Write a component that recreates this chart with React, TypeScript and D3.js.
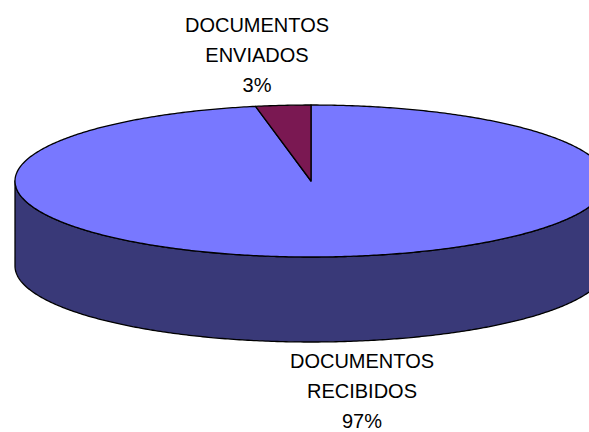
import React from 'react';
import * as d3 from 'd3';

// values
const labels = ['DOCUMENTOS RECIBIDOS', 'DOCUMENTOS ENVIADOS'];
const shares = [97, 3];
const topColors = ['#7878ff', '#7a1852'];
const sideColors = ['#393978', '#4a0e32'];

const W = 589;
const H = 432;
const cx = 311;
const cy = 181;
const rx = 296;
const ry = 76;
const depth = 85;

// projected point on the top ellipse, angle measured clockwise from 12 o'clock
function pt(a: number, dy = 0): [number, number] {
  return [cx + rx * Math.sin(a), cy - ry * Math.cos(a) + dy];
}

function arcPoints(a0: number, a1: number, dy = 0) {
  const n = Math.max(2, Math.ceil(Math.abs(a1 - a0) / 0.01));
  return d3.range(n + 1).map((i) => pt(a0 + ((a1 - a0) * i) / n, dy));
}

const line = d3.line();

export default function App() {
  const arcs = d3.pie<number>().sort(null).value((d) => d)(shares);

  const sides: React.ReactNode[] = [];
  const tops: React.ReactNode[] = [];

  arcs.forEach((a, i) => {
    // visible front wall spans from 90deg (right) to 270deg (left)
    const s0 = Math.max(a.startAngle, Math.PI / 2);
    const s1 = Math.min(a.endAngle, (3 * Math.PI) / 2);
    if (s1 > s0) {
      const upper = arcPoints(s0, s1);
      const lower = arcPoints(s1, s0, depth);
      sides.push(
        <path
          key={'s' + i}
          d={line([...upper, ...lower])! + 'Z'}
          fill={sideColors[i]}
          stroke="#000"
          strokeWidth={1.3}
          strokeLinejoin="round"
        />
      );
    }
    const pts: [number, number][] = [[cx, cy], ...arcPoints(a.startAngle, a.endAngle)];
    tops.push(
      <path
        key={'t' + i}
        d={line(pts)! + 'Z'}
        fill={topColors[i]}
        stroke="#000"
        strokeWidth={1.3}
        strokeLinejoin="round"
      />
    );
  });

  const total = d3.sum(shares);
  const fmt = (v: number) => Math.round((v / total) * 100) + '%';

  const labelPos = [
    { x: 362, y: 368 },
    { x: 257, y: 32 },
  ];

  return (
    <svg
      width={W}
      height={H}
      style={{ position: 'absolute', left: 0, top: 0, background: '#fff' }}
      fontFamily="'Liberation Sans', Arial, sans-serif"
      fontSize={20}
    >
      {sides}
      {tops}
      {labels.map((l, i) => {
        const words = l.split(' ');
        return (
          <text key={l} x={labelPos[i].x} y={labelPos[i].y} textAnchor="middle" fill="#000">
            {[...words, fmt(shares[i])].map((w, j) => (
              <tspan key={j} x={labelPos[i].x} dy={j === 0 ? 0 : 30}>
                {w}
              </tspan>
            ))}
          </text>
        );
      })}
    </svg>
  );
}
